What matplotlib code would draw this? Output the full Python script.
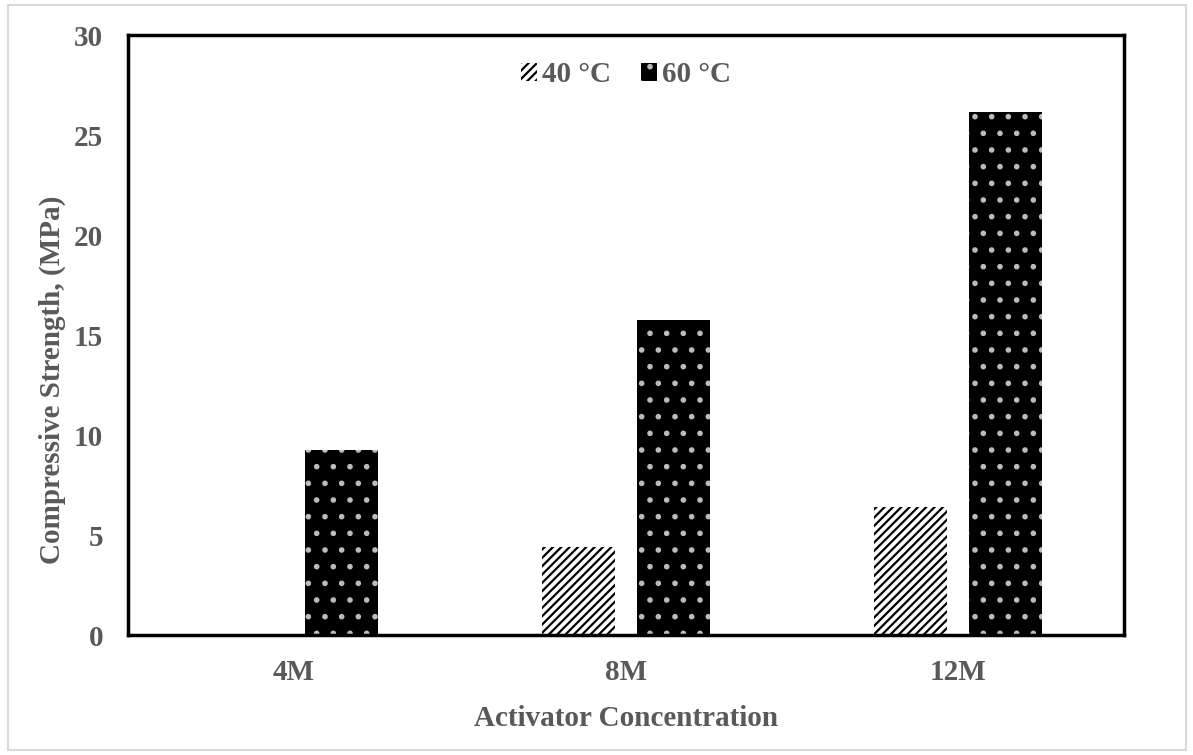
import numpy as np
import matplotlib.pyplot as plt
from matplotlib.patches import Rectangle

# data
categories = ['4M', '8M', '12M']
strength_40 = [0, 4.4, 6.4]
strength_60 = [9.25, 15.75, 26.15]
series_labels = ['40 \u00b0C', '60 \u00b0C']

plt.rcParams['font.family'] = ['Liberation Serif', 'DejaVu Serif']
plt.rcParams['font.weight'] = 'bold'
plt.rcParams['axes.labelweight'] = 'bold'
plt.rcParams['hatch.linewidth'] = 1.6
gray = '#595959'
fs = 21

fig = plt.figure(figsize=(11.93, 7.55), dpi=100)
ax = fig.add_axes([0.1073, 0.1589, 0.8349, 0.7947])

x = np.arange(len(categories))
w = 0.22
off = 0.143

b40 = ax.bar(x - off, strength_40, w, color='white', edgecolor='black',
             linewidth=0, hatch='////')
b60 = ax.bar(x + off, strength_60, w, color='black', edgecolor='#bbbbbb',
             linewidth=0, hatch='.')

ax.set_xlim(-0.5, 2.5)
ax.set_ylim(0, 30)
ax.set_yticks(range(0, 31, 5))
ax.set_xticks(x)
ax.set_xticklabels(categories)
ax.tick_params(length=0, labelsize=fs, labelcolor=gray)
ax.tick_params(axis='y', pad=18)
ax.tick_params(axis='x', pad=17)
for s in ax.spines.values():
    s.set_linewidth(2.5)
    s.set_color('black')

ax.set_xlabel('Activator Concentration', fontsize=fs, color=gray, labelpad=14)
ax.set_ylabel('Compressive Strength, (MPa)', fontsize=fs, color=gray)
ax.yaxis.set_label_coords(-0.062, 0.425)

leg = ax.legend([b40, b60], series_labels, loc='upper center', ncol=2,
                frameon=False, fontsize=fs, handlelength=0.55, handleheight=0.55,
                handletextpad=0.2, columnspacing=1.0, bbox_to_anchor=(0.5, 1.0))
for t in leg.get_texts():
    t.set_color(gray)

# light outer border of the figure
fig.patches.append(Rectangle((0.007, 0.006), 0.987, 0.988, transform=fig.transFigure,
                             fill=False, edgecolor='#d9d9d9', linewidth=1.5))

fig.savefig('out.png', dpi=100)
